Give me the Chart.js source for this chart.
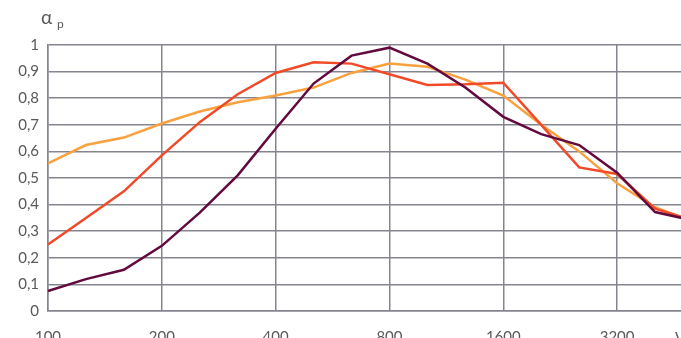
<!DOCTYPE html>
<html>
<head>
<meta charset="utf-8">
<script src="https://cdn.jsdelivr.net/npm/chart.js"></script>
<style>
  html, body { margin: 0; padding: 0; background: #fff; overflow: hidden; }
  #wrap { width: 681px; height: 338px; overflow: hidden; }
  #absChart { display: block; }
</style>
</head>
<body>
<div id="wrap"><canvas id="absChart" width="700" height="352"></canvas></div>
<script>
// frequenze in terzi d'ottava
var frequencies = ['100', '125', '160', '200', '250', '315', '400', '500', '630', '800',
  '1000', '1250', '1600', '2000', '2500', '3200', '4000', '5000'];

var seriesDark = [0.075, 0.12, 0.155, 0.245, 0.37, 0.51, 0.685, 0.855, 0.96, 0.99,
  0.93, 0.84, 0.73, 0.665, 0.624, 0.52, 0.372, 0.34];
var seriesRed = [0.25, 0.35, 0.45, 0.585, 0.71, 0.815, 0.895, 0.935, 0.93, 0.89,
  0.85, 0.852, 0.858, 0.70, 0.54, 0.515, 0.385, 0.34];
var seriesOrange = [0.555, 0.624, 0.652, 0.705, 0.75, 0.785, 0.81, 0.84, 0.895, 0.93,
  0.918, 0.87, 0.81, 0.70, 0.60, 0.48, 0.39, 0.335];

var yTicks = [0, 0.1, 0.2, 0.3, 0.4, 0.5, 0.6, 0.7, 0.8, 0.9, 1];

var gridColor = '#858590';
var textColor = '#595959';
var fontFamily = 'Lato, "Open Sans", sans-serif';

// titolo asse y "α p" e testo tagliato a destra
var axisTexts = {
  id: 'axisTexts',
  afterDraw: function (chart) {
    var c = chart.ctx;
    c.save();
    c.fillStyle = textColor;
    c.textBaseline = 'alphabetic';
    c.font = '19px ' + fontFamily;
    c.fillText('α', 41, 24);
    c.font = '12px ' + fontFamily;
    c.fillText('p', 57, 28);
    c.font = '15px ' + fontFamily;
    c.fillText('V', 675, 343);
    c.restore();
  }
};

var ctx = document.getElementById('absChart').getContext('2d');

window.absChart = new Chart(ctx, {
  type: 'line',
  data: {
    labels: frequencies,
    datasets: [{
      label: 'serie 1',
      data: seriesDark,
      borderColor: '#620a3e',
      borderWidth: 2.5
    }, {
      label: 'serie 2',
      data: seriesRed,
      borderColor: '#f04a28',
      borderWidth: 2.5
    }, {
      label: 'serie 3',
      data: seriesOrange,
      borderColor: '#f9a03f',
      borderWidth: 2.5
    }]
  },
  options: {
    responsive: false,
    animation: false,
    layout: { padding: { top: 45, right: 7, left: 0, bottom: 0 } },
    elements: {
      point: { radius: 0 },
      line: { tension: 0, fill: false }
    },
    plugins: {
      legend: { display: false },
      tooltip: { enabled: false }
    },
    scales: {
      x: {
        offset: false,
        afterFit: function (scale) {
          scale.height = 41;
          scale.paddingRight = 0;
        },
        grid: {
          drawTicks: false,
          lineWidth: 1.5,
          color: function (c) {
            return c.index % 3 === 0 ? gridColor : 'rgba(0,0,0,0)';
          }
        },
        border: { color: gridColor, width: 1.5 },
        ticks: {
          autoSkip: false,
          maxRotation: 0,
          padding: 17,
          color: textColor,
          font: { family: fontFamily, size: 15 },
          callback: function (val, i) {
            return i % 3 === 0 ? frequencies[i] : '';
          }
        }
      },
      y: {
        min: 0,
        max: 1,
        afterFit: function (scale) { scale.width = 48; },
        afterBuildTicks: function (scale) {
          scale.ticks = yTicks.map(function (v) { return { value: v }; });
        },
        grid: { drawTicks: false, color: gridColor, lineWidth: 1.5 },
        border: { color: gridColor, width: 1.5 },
        ticks: {
          padding: 9,
          color: textColor,
          font: { family: fontFamily, size: 15 },
          callback: function (v) {
            if (v === 0) return '0';
            if (v === 1) return '1';
            return v.toFixed(1).replace('.', ',');
          }
        }
      }
    }
  },
  plugins: [axisTexts]
});
</script>
</body>
</html>
